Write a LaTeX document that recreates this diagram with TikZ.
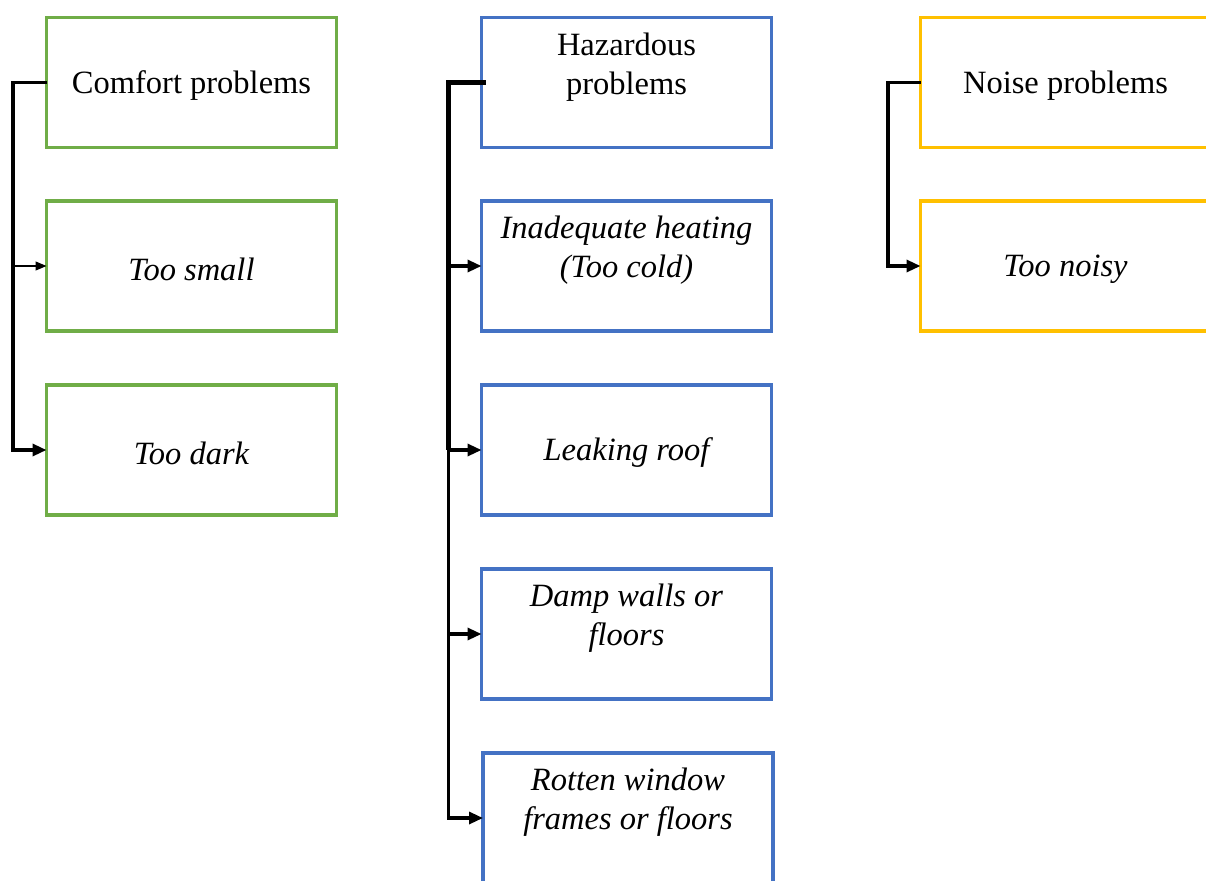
\documentclass[tikz,border=0pt]{standalone}
\usepackage{fontspec}
\setmainfont{Liberation Serif}
\usetikzlibrary{arrows.meta}
\definecolor{cgreen}{HTML}{70AD47}
\definecolor{cblue}{HTML}{4472C4}
\definecolor{cyellow}{HTML}{FFC000}
\begin{document}
\begin{tikzpicture}[x=1pt,y=-1pt,
  box/.style={draw=#1, line width=3.2pt, minimum width=290pt, minimum height=130pt, inner sep=0pt, outer sep=0pt},
  lbl/.style={font=\fontsize{32.5}{39}\selectfont, align=center, inner sep=0pt},
  conn/.style={line width=3.2pt},
  tip/.style={-{Triangle[length=14pt,width=12pt]}},
  thintip/.style={line width=1.2pt,-{Triangle[length=11pt,width=9pt]}}]
\useasboundingbox (0,0) rectangle (1206,880);
\clip (0,0) rectangle (1206,880);
% green column
\node[box=cgreen] (cp) at (191.5,82.5) {};
\node[box=cgreen] (ts) at (191.5,266) {};
\node[box=cgreen] (td) at (191.5,450) {};
\node[lbl] (cpt) at ([yshift=-3pt]cp.center) {Comfort problems};
\node[lbl] (tst) at ([yshift=-3pt]ts.center) {\itshape Too small};
\node[lbl] (tdt) at ([yshift=-3pt]td.center) {\itshape Too dark};
% blue column
\node[box=cblue] (hp) at (626.5,82.5) {};
\node[box=cblue] (ih) at (626.5,266) {};
\node[box=cblue] (lr) at (626.5,450) {};
\node[box=cblue] (dw) at (626.5,634) {};
\node[box=cblue] (rw) at (628,818) {};
\node[lbl] (hpt) at ([yshift=15.5pt]hp.center) {Hazardous\\problems};
\node[lbl] (iht) at ([yshift=15.5pt]ih.center) {\itshape Inadequate heating\\\itshape (Too cold)};
\node[lbl] (lrt) at ([yshift=-3pt]lr.center) {\itshape Leaking roof};
\node[lbl] (dwt) at ([yshift=15.5pt]dw.center) {\itshape Damp walls or\\\itshape floors};
\node[lbl] (rwt) at ([yshift=15.5pt]rw.center) {\itshape Rotten window\\\itshape frames or floors};
% yellow column
\node[box=cyellow] (np) at (1065.5,82.5) {};
\node[box=cyellow] (tn) at (1065.5,266) {};
\node[lbl] (npt) at ([yshift=-3pt]np.center) {Noise problems};
\node[lbl] (tnt) at ([yshift=-3pt]tn.center) {\itshape Too noisy};
% green connectors
\draw[conn,tip] (cp.west) -- ++(-33.5,0) |- (td.west);
\coordinate (g1) at (13,266);
\draw[thintip] (g1) -- (ts.west);
% blue connectors
\draw[conn,tip] (hp.west) -- ++(-33,0) |- (rw.west);
\draw[line width=4.5pt] ([xshift=4pt]hp.west) -- ++(-37,0) -- ++(0,367.5);
\coordinate (b1) at (449.5,266);
\coordinate (b2) at (449.5,450);
\coordinate (b3) at (449.5,634);
\draw[conn,tip] (b1) -- (ih.west);
\draw[conn,tip] (b2) -- (lr.west);
\draw[conn,tip] (b3) -- (dw.west);
% yellow connector
\draw[conn,tip] (np.west) -- ++(-32.5,0) |- (tn.west);
\end{tikzpicture}
\end{document}
